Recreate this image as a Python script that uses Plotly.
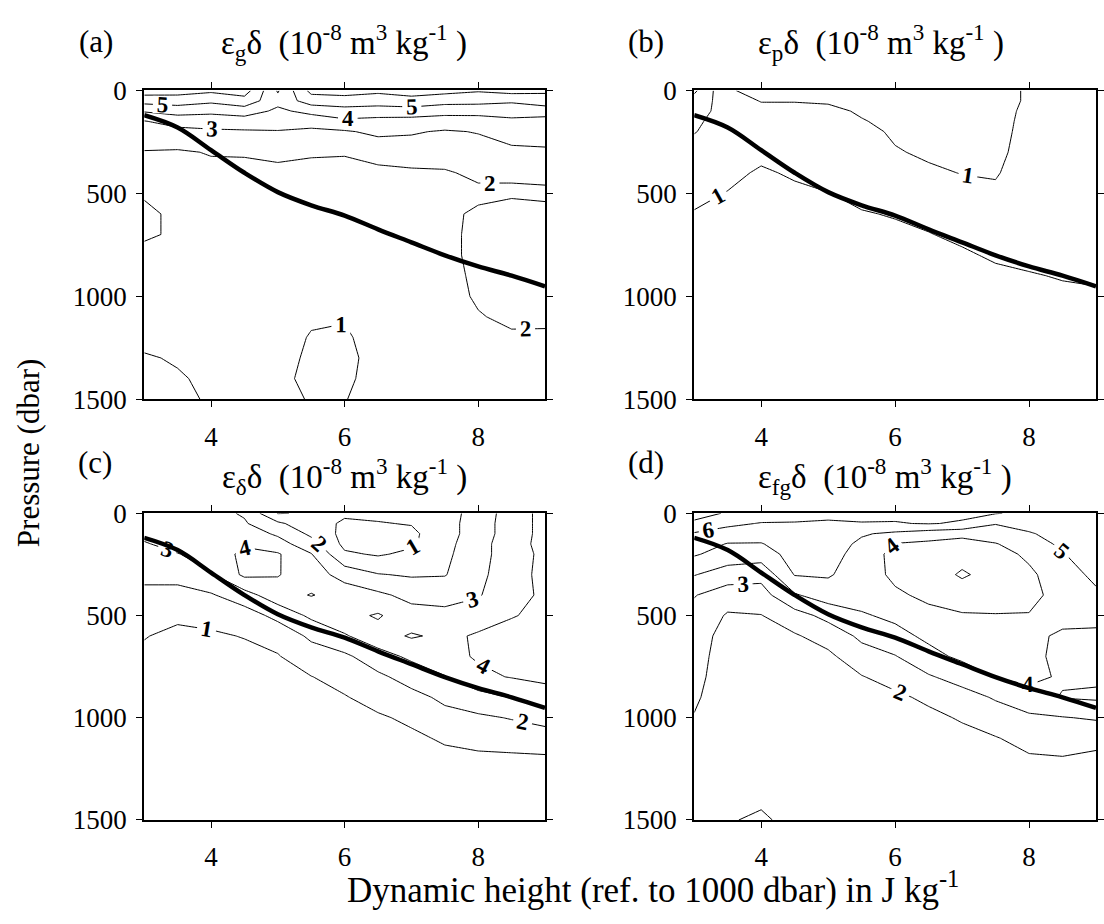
import plotly.graph_objects as go

SERIF = "Liberation Serif, Times New Roman, serif"

# Grid of the sections: dynamic height (J/kg) across, pressure (dbar) down
dyn_height = [3.0, 3.5, 4.0, 4.5, 5.0, 5.5, 6.0, 6.5, 7.0, 7.5, 8.0, 8.5, 9.0]
pressure = [0, 50, 100, 150, 200, 300, 400, 500, 600, 700, 800, 900,
            1000, 1100, 1200, 1300, 1400, 1500]

# (a) eps_g * delta, rows follow `pressure`, columns follow `dyn_height`
eps_g = [
    [6.5, 6.4, 6.2, 6.5, 3.9, 6.3, 6.4, 6.2, 6.5, 6.3, 6.1, 6.4, 6.2],
    [5.4, 5.5, 5.2, 5.6, 4.3, 5.5, 5.6, 5.5, 5.6, 5.4, 5.3, 5.1, 5.5],
    [4.1, 4.4, 4.3, 4.5, 3.8, 4.3, 4.6, 4.5, 4.6, 4.3, 4.4, 4.6, 4.5],
    [2.95, 3.4, 3.3, 3.5, 3.4, 3.4, 3.8, 3.7, 3.6, 3.6, 3.5, 3.7, 3.6],
    [2.6, 2.7, 2.9, 2.9, 2.95, 2.8, 2.9, 3.2, 3.1, 2.9, 3.05, 3.2, 3.3],
    [1.95, 1.9, 2.05, 2.1, 2.2, 2.15, 2.05, 2.4, 2.5, 2.5, 2.6, 2.9, 2.9],
    [1.8, 1.6, 1.8, 1.7, 1.8, 1.6, 1.8, 1.75, 1.85, 1.9, 2.2, 2.1, 2.3],
    [1.1, 1.5, 1.6, 1.5, 1.6, 1.5, 1.6, 1.5, 1.6, 1.7, 1.8, 1.9, 1.8],
    [0.8, 1.2, 1.4, 1.5, 1.5, 1.4, 1.5, 1.6, 1.5, 1.8, 2.15, 2.3, 2.3],
    [0.9, 1.1, 1.3, 1.4, 1.5, 1.4, 1.4, 1.5, 1.6, 1.8, 2.2, 2.3, 2.4],
    [1.2, 1.3, 1.4, 1.3, 1.4, 1.5, 1.4, 1.5, 1.6, 1.8, 2.2, 2.3, 2.3],
    [1.3, 1.4, 1.3, 1.4, 1.3, 1.4, 1.3, 1.5, 1.6, 1.75, 2.15, 2.2, 2.4],
    [1.3, 1.3, 1.2, 1.3, 1.4, 1.3, 1.2, 1.4, 1.5, 1.7, 2.1, 2.2, 2.3],
    [1.4, 1.3, 1.2, 1.3, 1.3, 1.1, 1.05, 1.3, 1.5, 1.6, 1.95, 2.15, 2.2],
    [1.3, 1.2, 1.3, 1.4, 1.3, 0.95, 0.9, 1.3, 1.4, 1.6, 1.8, 1.9, 1.85],
    [0.9, 1.1, 1.3, 1.3, 1.2, 0.9, 0.85, 1.2, 1.4, 1.5, 1.7, 1.8, 1.7],
    [0.7, 0.9, 1.2, 1.3, 1.1, 0.9, 0.9, 1.2, 1.3, 1.5, 1.6, 1.7, 1.7],
    [0.7, 0.8, 1.1, 1.3, 1.2, 0.95, 0.98, 1.2, 1.3, 1.5, 1.6, 1.7, 1.6],
]

# (b) eps_p * delta
eps_p = [
    [3.2, 1.1, 0.7, 0.6, 0.6, 0.5, 0.5, 0.5, 0.6, 0.7, 1.1, 1.2, 1.3],
    [2.6, 1.5, 0.95, 0.95, 0.9, 0.7, 0.6, 0.6, 0.6, 0.7, 1.1, 1.25, 1.3],
    [2.4, 1.6, 1.3, 1.3, 1.2, 0.9, 0.7, 0.6, 0.65, 0.75, 1.15, 1.3, 1.35],
    [2.2, 1.5, 1.4, 1.4, 1.3, 1.05, 0.8, 0.7, 0.7, 0.75, 1.2, 1.3, 1.35],
    [2.05, 1.5, 1.5, 1.5, 1.4, 1.2, 0.9, 0.8, 0.75, 0.8, 1.2, 1.3, 1.35],
    [1.6, 1.4, 1.2, 1.4, 1.4, 1.3, 1.05, 0.9, 0.85, 0.85, 1.25, 1.35, 1.4],
    [1.4, 1.2, 0.9, 1.1, 1.3, 1.3, 1.2, 1.1, 0.98, 0.95, 1.3, 1.4, 1.4],
    [1.2, 0.97, 0.8, 0.85, 0.98, 1.2, 1.2, 1.3, 1.2, 1.1, 1.3, 1.4, 1.45],
    [0.95, 0.8, 0.75, 0.75, 0.8, 0.95, 1.05, 1.2, 1.3, 1.2, 1.35, 1.4, 1.45],
    [0.8, 0.7, 0.7, 0.7, 0.7, 0.8, 0.85, 0.97, 1.15, 1.3, 1.3, 1.35, 1.4],
    [0.75, 0.7, 0.7, 0.7, 0.7, 0.7, 0.75, 0.8, 0.9, 1.1, 1.2, 1.3, 1.35],
    [0.7, 0.7, 0.7, 0.7, 0.7, 0.7, 0.7, 0.75, 0.8, 0.85, 0.95, 1.05, 1.1],
    [0.7, 0.7, 0.65, 0.7, 0.7, 0.65, 0.7, 0.7, 0.75, 0.75, 0.8, 0.85, 0.9],
    [0.65, 0.7, 0.65, 0.65, 0.7, 0.65, 0.65, 0.7, 0.7, 0.7, 0.75, 0.8, 0.8],
    [0.65, 0.65, 0.6, 0.65, 0.65, 0.6, 0.65, 0.65, 0.7, 0.7, 0.7, 0.75, 0.75],
    [0.6, 0.65, 0.6, 0.6, 0.65, 0.6, 0.6, 0.65, 0.65, 0.7, 0.7, 0.7, 0.7],
    [0.6, 0.6, 0.6, 0.6, 0.6, 0.6, 0.6, 0.6, 0.65, 0.65, 0.7, 0.7, 0.7],
    [0.6, 0.6, 0.6, 0.6, 0.6, 0.6, 0.6, 0.6, 0.6, 0.65, 0.65, 0.65, 0.7],
]

# (c) eps_delta * delta
eps_delta = [
    [3.6, 3.4, 3.3, 2.9, 0.95, 1.1, 1.1, 1.2, 1.3, 1.6, 2.4, 3.5, 4.3],
    [3.6, 3.6, 3.5, 3.1, 2.2, 1.3, 0.9, 0.95, 1.05, 1.6, 2.5, 3.5, 4.3],
    [3.3, 3.6, 3.6, 3.5, 2.85, 1.8, 0.7, 0.7, 0.8, 1.6, 2.5, 3.5, 4.3],
    [2.9, 3.4, 3.7, 3.9, 3.4, 2.4, 0.75, 0.7, 0.85, 1.7, 2.6, 3.6, 4.3],
    [2.7, 2.95, 3.5, 4.2, 4.1, 3.05, 1.15, 0.9, 1.2, 1.8, 2.6, 3.6, 4.2],
    [2.2, 2.3, 2.9, 4.2, 4.05, 3.5, 2.6, 2.05, 1.9, 1.95, 2.7, 3.7, 4.2],
    [1.8, 1.7, 1.9, 2.6, 3.6, 4.05, 3.6, 3.2, 2.7, 2.6, 2.9, 3.8, 4.1],
    [1.4, 1.2, 1.35, 1.5, 2.3, 3.2, 3.7, 4.1, 3.4, 3.3, 3.6, 3.95, 4.2],
    [1.05, 0.75, 0.85, 1.05, 1.3, 2.2, 2.9, 3.6, 4.1, 3.8, 4.1, 4.3, 4.4],
    [0.8, 0.6, 0.6, 0.7, 0.95, 1.5, 1.8, 2.6, 3.2, 3.7, 4.1, 4.35, 4.4],
    [0.7, 0.55, 0.55, 0.6, 0.7, 0.98, 1.3, 1.8, 2.4, 2.95, 3.8, 4.05, 4.2],
    [0.6, 0.5, 0.5, 0.55, 0.6, 0.8, 0.95, 1.3, 1.7, 2.2, 2.6, 3.05, 3.6],
    [0.6, 0.5, 0.5, 0.5, 0.55, 0.7, 0.75, 0.9, 1.15, 1.7, 1.85, 2.05, 2.3],
    [0.55, 0.5, 0.5, 0.5, 0.5, 0.6, 0.65, 0.7, 0.85, 1.1, 1.25, 1.5, 1.6],
    [0.5, 0.5, 0.5, 0.5, 0.5, 0.55, 0.6, 0.6, 0.7, 0.8, 0.85, 0.8, 0.85],
    [0.5, 0.5, 0.5, 0.5, 0.5, 0.5, 0.55, 0.55, 0.6, 0.7, 0.7, 0.65, 0.7],
    [0.5, 0.5, 0.5, 0.5, 0.5, 0.5, 0.5, 0.5, 0.55, 0.6, 0.6, 0.6, 0.6],
    [0.5, 0.5, 0.5, 0.5, 0.5, 0.5, 0.5, 0.5, 0.5, 0.55, 0.55, 0.55, 0.55],
]

# (d) eps_fg * delta
eps_fg = [
    [7.4, 6.9, 6.5, 6.3, 6.2, 6.3, 6.2, 6.3, 6.2, 6.05, 5.8, 5.7, 5.9],
    [6.8, 6.2, 5.95, 5.95, 5.9, 5.95, 5.95, 6.05, 5.9, 5.05, 5.4, 5.6, 5.8],
    [5.9, 5.6, 5.4, 5.7, 5.6, 5.1, 4.8, 4.5, 4.3, 4.5, 4.9, 5.4, 5.7],
    [5.5, 4.95, 4.95, 5.5, 5.5, 4.8, 3.95, 3.8, 3.6, 3.95, 4.5, 5.2, 5.6],
    [5.1, 4.6, 4.5, 5.4, 5.4, 4.6, 3.7, 3.5, 3.3, 3.6, 4.2, 4.95, 5.5],
    [4.05, 3.5, 3.3, 5.05, 5.1, 4.5, 3.8, 3.4, 2.9, 3.3, 3.8, 4.6, 5.2],
    [3.05, 2.5, 2.6, 3.9, 4.5, 4.4, 4.15, 3.8, 3.4, 3.5, 3.7, 4.4, 4.85],
    [2.7, 1.9, 1.97, 2.6, 3.3, 3.9, 4.2, 4.25, 4.1, 4.05, 4.05, 4.2, 4.3],
    [2.5, 1.6, 1.7, 1.9, 2.4, 3.2, 3.7, 4.2, 4.3, 4.3, 4.15, 3.9, 3.8],
    [2.4, 1.5, 1.6, 1.7, 1.8, 2.6, 2.95, 3.7, 4.2, 4.35, 4.2, 3.8, 3.7],
    [2.3, 1.45, 1.5, 1.6, 1.6, 1.95, 2.4, 2.9, 3.4, 4.05, 4.2, 3.9, 3.85],
    [2.15, 1.4, 1.45, 1.5, 1.5, 1.7, 1.8, 2.2, 2.6, 3.1, 3.7, 4.05, 4.15],
    [1.95, 1.4, 1.4, 1.45, 1.45, 1.6, 1.6, 1.75, 2.1, 2.5, 2.8, 2.95, 3.1],
    [1.8, 1.35, 1.35, 1.4, 1.4, 1.5, 1.5, 1.55, 1.7, 1.95, 2.3, 2.4, 2.3],
    [1.7, 1.3, 1.3, 1.35, 1.35, 1.45, 1.45, 1.5, 1.5, 1.6, 1.9, 1.95, 1.8],
    [1.6, 1.25, 1.25, 1.3, 1.3, 1.4, 1.4, 1.45, 1.45, 1.5, 1.6, 1.7, 1.6],
    [1.5, 1.1, 1.1, 1.25, 1.3, 1.4, 1.4, 1.4, 1.4, 1.45, 1.5, 1.55, 1.5],
    [1.4, 1.05, 0.9, 1.2, 1.3, 1.4, 1.35, 1.4, 1.4, 1.4, 1.4, 1.45, 1.45],
]

# Heavy reference curve drawn in every panel
curve_height = [3.0, 3.5, 4.0, 4.5, 5.0, 5.5, 6.0, 6.5, 7.0, 7.5, 8.0, 8.5, 9.0]
curve_pressure = [120, 180, 290, 400, 494, 558, 608, 675, 738, 801, 855, 900, 952]

panel_letters = ["(a)", "(b)", "(c)", "(d)"]
panel_titles = [
    "ε<sub>g</sub>δ  (10<sup>-8</sup> m<sup>3</sup> kg<sup>-1</sup> )",
    "ε<sub>p</sub>δ  (10<sup>-8</sup> m<sup>3</sup> kg<sup>-1</sup> )",
    "ε<sub>δ</sub>δ  (10<sup>-8</sup> m<sup>3</sup> kg<sup>-1</sup> )",
    "ε<sub>fg</sub>δ  (10<sup>-8</sup> m<sup>3</sup> kg<sup>-1</sup> )",
]
fields = [eps_g, eps_p, eps_delta, eps_fg]

W, H = 1104, 924
# plot-area boxes in pixels: (left, right, top, bottom)
boxes = [(145, 548, 78, 397), (698, 1102, 78, 397),
         (145, 548, 515, 832), (698, 1102, 515, 832)]
# centres of the panel letters and titles in pixels: (letter x, title x, letter y, title y)
heads = [(97, 346, 27, 28), (650, 886, 27, 28),
         (96, 346, 463, 477), (650, 890, 463, 477)]

fig = go.Figure()
layout = dict(
    width=W, height=H, autosize=False,
    margin=dict(l=0, r=0, t=0, b=0),
    paper_bgcolor="white", plot_bgcolor="white",
    showlegend=False,
    font=dict(family=SERIF, color="black"),
    annotations=[],
)

for i, (field, box, head) in enumerate(zip(fields, boxes, heads)):
    n = "" if i == 0 else str(i + 1)
    xa, ya = "x" + n, "y" + n
    fig.add_trace(go.Contour(
        x=dyn_height, y=pressure, z=field,
        xaxis=xa, yaxis=ya,
        contours=dict(start=1, end=7, size=1, coloring="lines",
                      showlabels=True,
                      labelfont=dict(family=SERIF, size=23, color="black",
                                     weight="bold"),
                      labelformat=".0f"),
        colorscale=[[0, "black"], [1, "black"]],
        line=dict(width=1, smoothing=0),
        showscale=False, hoverinfo="skip",
    ))
    fig.add_trace(go.Scatter(
        x=curve_height, y=curve_pressure, mode="lines",
        line=dict(color="black", width=4.5, shape="spline"),
        xaxis=xa, yaxis=ya, hoverinfo="skip",
    ))
    l, r, t, b = box
    common = dict(ticks="outside", ticklen=6, tickwidth=1.2, tickcolor="black",
                  showline=True, linecolor="black", linewidth=2,
                  mirror="ticks", showgrid=False, zeroline=False,
                  tickfont=dict(family=SERIF, size=27, color="black"))
    layout["xaxis" + n] = dict(domain=[l / W, r / W], range=[3, 9],
                               tickvals=[4, 6, 8], anchor=ya,
                               ticklabelstandoff=6, **common)
    layout["yaxis" + n] = dict(domain=[1 - b / H, 1 - t / H], range=[1500, 0],
                               tickvals=[0, 500, 1000, 1500], anchor=xa,
                               ticklabelstandoff=4, **common)
    letter_x, title_x, letter_y, title_y = head
    layout["annotations"].append(dict(
        text=panel_letters[i], x=letter_x / W, y=1 - letter_y / H,
        xref="paper", yref="paper", showarrow=False,
        xanchor="center", yanchor="middle",
        font=dict(family=SERIF, size=31, color="black")))
    layout["annotations"].append(dict(
        text=panel_titles[i], x=title_x / W, y=1 - title_y / H,
        xref="paper", yref="paper", showarrow=False,
        xanchor="center", yanchor="middle",
        font=dict(family=SERIF, size=33, color="black")))

layout["annotations"].append(dict(
    text="Pressure (dbar)", x=28 / W, y=1 - 452 / H,
    xref="paper", yref="paper", showarrow=False, textangle=-90,
    xanchor="center", yanchor="middle",
    font=dict(family=SERIF, size=31, color="black")))
layout["annotations"].append(dict(
    text="Dynamic height (ref. to 1000 dbar) in J kg<sup>-1</sup>",
    x=657 / W, y=1 - 902 / H,
    xref="paper", yref="paper", showarrow=False,
    xanchor="center", yanchor="middle",
    font=dict(family=SERIF, size=35, color="black")))

fig.update_layout(**layout)
fig.write_html("out.html")
